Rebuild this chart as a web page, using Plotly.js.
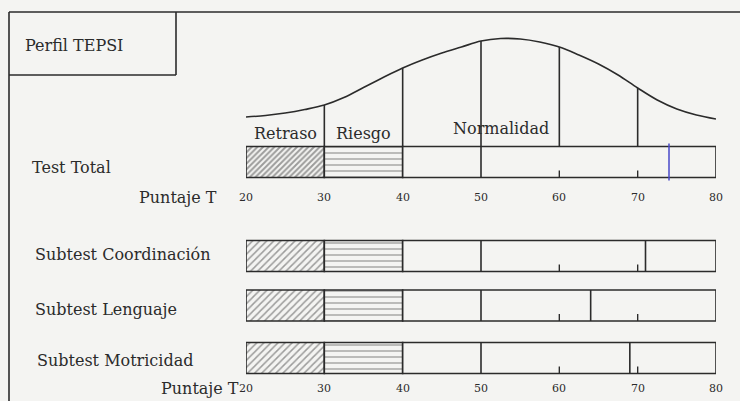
<!DOCTYPE html>
<html><head><meta charset="utf-8">
<script src="https://cdn.plot.ly/plotly-3.0.1.min.js"></script>
<style>html,body{margin:0;padding:0;background:#f4f4f2;}#chart{width:740px;height:401px;}</style>
</head><body><div id="chart"></div>
<script>
// ---- data ----
const categories = ['Test Total', 'Subtest Coordinación', 'Subtest Lenguaje', 'Subtest Motricidad'];
const scores = [74, 71, 64, 69];
const zoneNames = ['Retraso', 'Riesgo', 'Normalidad'];
const zoneStart = [20, 30, 40];
const zoneEnd = [30, 40, 80];
const tickVals = [20, 30, 40, 50, 60, 70, 80];
const tickText = ['20', '30', '40', '50', '60', '70', '80'];
const curveX = [20, 22.5, 25, 27.5, 30, 32.5, 35, 37.5, 40, 42.5, 45, 47.5, 50, 52.5, 55, 57.5, 60, 62.5, 65, 67.5, 70, 72.5, 75, 77.5, 80];
const curveH = [3, 4.5, 7, 10.5, 15, 22.5, 32.5, 42.5, 52, 60, 67, 73, 79, 81.5, 81, 78, 73, 65, 56, 45, 32, 20, 11, 5, 1];
const dividers = [30, 40, 50, 60, 70];
const innerTicks = [60, 70];

// ---- layout constants ----
const W = 740, H = 401;
const rowY = [239, 145, 95.5, 43];
const barH = 31;
const curveBase = 281;
const ink = '#2b2b2b';
const paper = '#f4f4f2';
const serif = 'DejaVu Serif, Liberation Serif, serif';
const fs = 16;
const px = v => v / W;

const traces = [];
// zone bars
const patterns = [
  {shape: '/', size: [4, 5, 5, 5], solidity: [0.5, 0.3, 0.3, 0.3]},
  {shape: '-', size: [6, 6, 6, 6], solidity: [0.22, 0.22, 0.22, 0.22]},
  null
];
zoneNames.forEach((z, i) => {
  const m = {color: paper, line: {color: ink, width: 1.6}};
  if (patterns[i]) m.pattern = Object.assign({fgcolor: '#444', bgcolor: paper, fillmode: 'overlay'}, patterns[i]);
  traces.push({
    type: 'bar', orientation: 'h', name: z,
    y: rowY, x: categories.map(() => zoneEnd[i] - zoneStart[i]),
    base: categories.map(() => zoneStart[i]),
    width: barH, marker: m, hoverinfo: 'skip', showlegend: false
  });
});

// bell curve
traces.push({type: 'scatter', mode: 'lines', x: curveX, y: curveH.map(h => curveBase + h),
  line: {color: ink, width: 1.6, shape: 'spline', smoothing: 1}, hoverinfo: 'skip', showlegend: false});

const seg = (x0, y0, y1, color, width) => ({type: 'scatter', mode: 'lines', x: [x0, x0], y: [y0, y1],
  line: {color: color || ink, width: width || 1.6}, hoverinfo: 'skip', showlegend: false});

const top0 = rowY[0] + barH / 2, bot0 = rowY[0] - barH / 2;
// vertical dividers from curve down to the Test Total bar
dividers.forEach(d => {
  const h = curveH[curveX.indexOf(d)];
  const lower = (d === 50) ? bot0 : top0;
  traces.push(seg(d, curveBase + h, lower));
});
// line at 50 through subtests
for (let r = 1; r < rowY.length; r++) traces.push(seg(50, rowY[r] - barH / 2, rowY[r] + barH / 2));
// small inner ticks
rowY.forEach(y => innerTicks.forEach(t => traces.push(seg(t, y - barH / 2, y - barH / 2 + 7, ink, 1.4))));
// score marks
scores.forEach((s, r) => {
  if (r === 0) traces.push(seg(s, rowY[r] - barH / 2 - 3, rowY[r] + barH / 2 + 3, '#4848c8', 1.5));
  else traces.push(seg(s, rowY[r] - barH / 2, rowY[r] + barH / 2, ink, 1.6));
});

const ann = [];
const txt = (text, x, y, xanchor) => ann.push({text, x, y, xref: 'paper', yref: 'y',
  xanchor: xanchor || 'left', yanchor: 'middle', showarrow: false, font: {family: serif, size: fs, color: ink}});
txt('Perfil TEPSI', px(23), H - 45, 'left');
categories.forEach((c, r) => txt(c, px([30, 33, 33, 35][r]), H - [167, 254, 309, 360][r], 'left'));
txt('Puntaje T', px(219), H - 197, 'right');
txt('Puntaje T', px(241), H - 388, 'right');
// zone labels
const zl = (text, x, y) => ann.push({text, x, y, xref: 'x', yref: 'y', showarrow: false, font: {family: serif, size: fs, color: ink}});
zl('Retraso', 25, H - 133);
zl('Riesgo', 35, H - 133);
zl('Normalidad', 52.5, H - 128);
// tick labels
[H - 197, H - 388].forEach(yy => tickVals.forEach((t, i) => ann.push({text: tickText[i], x: t, y: yy,
  xref: 'x', yref: 'y', showarrow: false, font: {family: serif, size: 11, color: ink}})));

const shapes = [
  {type: 'line', xref: 'paper', yref: 'paper', x0: px(9), x1: 1, y0: 1 - 12 / H, y1: 1 - 12 / H, line: {color: ink, width: 1.6}},
  {type: 'line', xref: 'paper', yref: 'paper', x0: px(9), x1: px(9), y0: 0, y1: 1 - 12 / H, line: {color: ink, width: 1.6}},
  {type: 'line', xref: 'paper', yref: 'paper', x0: px(176), x1: px(176), y0: 1 - 12 / H, y1: 1 - 75 / H, line: {color: ink, width: 1.6}},
  {type: 'line', xref: 'paper', yref: 'paper', x0: px(9), x1: px(176), y0: 1 - 75 / H, y1: 1 - 75 / H, line: {color: ink, width: 1.6}}
];

const layout = {
  width: W, height: H, margin: {l: 0, r: 0, t: 0, b: 0},
  paper_bgcolor: paper, plot_bgcolor: 'rgba(0,0,0,0)',
  barmode: 'overlay', showlegend: false,
  xaxis: {range: [20, 80], domain: [px(246), px(716)], visible: false, fixedrange: true},
  yaxis: {range: [0, H], visible: false, fixedrange: true},
  annotations: ann, shapes: shapes
};
Plotly.newPlot('chart', traces, layout, {displayModeBar: false, staticPlot: true});
</script></body></html>
